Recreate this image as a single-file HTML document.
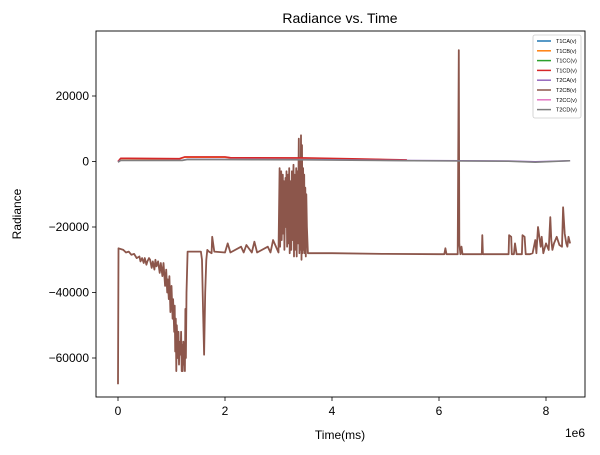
<!DOCTYPE html>
<html><head><meta charset="utf-8">
<style>
body{margin:0;background:#fff;}
svg{display:block;font-family:"Liberation Sans","DejaVu Sans",sans-serif;}
</style></head>
<body>
<svg id="chart" width="600" height="455" viewBox="0 0 600 455" xmlns="http://www.w3.org/2000/svg">
<rect x="0" y="0" width="600" height="455" fill="#fff"/>
<text x="340" y="23" font-size="14" text-anchor="middle">Radiance vs. Time</text>
<g id="series"></g>
<rect x="96" y="31" width="489" height="366" fill="none" stroke="#000" stroke-width="0.9"/>
<g id="axes"></g>
<text x="340" y="439" font-size="12" text-anchor="middle">Time(ms)</text>
<text x="585" y="437" font-size="12" text-anchor="end">1e6</text>
<text x="21" y="214" font-size="12" text-anchor="middle" transform="rotate(-90 21 214)">Radiance</text>
<g id="legend"></g>
</svg>
<script>
const seriesNames=["T1CA(v)","T1CB(v)","T1CC(v)","T1CD(v)","T2CA(v)","T2CB(v)","T2CC(v)","T2CD(v)"];
const seriesColors=["#1f77b4","#ff7f0e","#2ca02c","#d62728","#9467bd","#8c564b","#e377c2","#7f7f7f"];
const xTicks=[0,2,4,6,8];
const yTicks=[20000,0,-20000,-40000,-60000];
const yTickLabels=["20000","0","\u221220000","\u221240000","\u221260000"];
const t1Time=[0,0.05,1.15,1.25,2.0,2.1,3.5,4.5,5.4];
const t1cdValues=[0,1000,900,1400,1400,1200,1100,800,500];
const t1cbValues=[0,900,800,1300,1300,1100,1000,700,400];
const t2Time=[0,0.05,1.2,1.3,3.5,5.5,7.3,7.8,8.45];
const t2cdValues=[-200,300,300,600,500,200,100,-200,200];
const t2caValues=[-100,400,400,700,600,300,150,-100,250];
const t2cbTime=[0,0.01,0.1,0.15,0.2,0.25,0.3,0.35,0.4,0.42,0.45,0.48,0.5,0.53,0.55,0.58,0.6,0.63,0.65,0.68,0.7,0.72,0.75,0.78,0.8,0.83,0.85,0.88,0.9,0.92,0.93,0.95,0.96,0.98,1.0,1.02,1.03,1.05,1.06,1.07,1.08,1.09,1.1,1.12,1.13,1.14,1.15,1.17,1.18,1.19,1.2,1.21,1.22,1.23,1.24,1.25,1.26,1.27,1.28,1.3,1.55,1.57,1.59,1.61,1.63,1.65,1.67,1.7,1.75,1.76,1.8,2.0,2.05,2.1,2.3,2.35,2.4,2.5,2.55,2.6,2.8,2.85,2.9,3.0,3.02,3.03,3.05,3.06,3.08,3.09,3.1,3.11,3.13,3.14,3.15,3.16,3.18,3.19,3.2,3.21,3.23,3.24,3.25,3.26,3.28,3.29,3.3,3.31,3.33,3.34,3.35,3.36,3.38,3.39,3.4,3.41,3.42,3.43,3.44,3.45,3.46,3.47,3.48,3.49,3.5,3.51,3.52,3.53,3.55,3.6,4.0,5.0,6.0,6.1,6.12,6.14,6.35,6.37,6.38,6.4,6.42,6.44,6.8,6.81,6.82,7.3,7.31,7.35,7.36,7.4,7.42,7.45,7.55,7.56,7.6,7.62,7.7,7.75,7.8,7.82,7.85,7.9,7.92,7.95,8.0,8.05,8.08,8.1,8.12,8.15,8.2,8.25,8.3,8.32,8.35,8.38,8.4,8.42,8.45];
const t2cbValues=[-68000,-26500,-27000,-27800,-27500,-28500,-28200,-29500,-29000,-30500,-29500,-31000,-29500,-31500,-30500,-29500,-30000,-32500,-30500,-33000,-30000,-32000,-30500,-34000,-31000,-35000,-31000,-38000,-33000,-40000,-36000,-42000,-35000,-46000,-38000,-48000,-42000,-52000,-44000,-58000,-48000,-64000,-50000,-60000,-52000,-62000,-55000,-59000,-52000,-64000,-56000,-64000,-55000,-62000,-57000,-64000,-45000,-60000,-40000,-27500,-27500,-30000,-46000,-59000,-40000,-30000,-27000,-27500,-28000,-23000,-27500,-27800,-25000,-27800,-26000,-27800,-25500,-27800,-24500,-27800,-26000,-27800,-24000,-27800,-2000,-26000,-3000,-24000,-4000,-22000,-6000,-27000,-5000,-20000,-3000,-26000,-4000,-25000,-2000,-28000,-6000,-27000,-3000,-24000,-1000,-29000,-4000,-27000,-2000,-29000,-3000,-25000,7000,-28000,1000,-27000,8000,-30000,5000,-28000,-2000,-27000,-4000,-28000,-8000,-29000,-10000,-20000,-28000,-28000,-28000,-28200,-28300,-28300,-26500,-28300,-28300,34000,-25000,-28300,-26000,-28300,-28300,-22500,-28300,-28300,-22500,-23000,-28300,-28300,-25000,-28300,-28300,-22500,-23000,-28300,-28300,-28000,-24000,-28000,-20000,-26000,-23000,-28000,-25000,-27000,-17000,-24000,-27000,-25000,-23000,-25500,-26000,-14000,-22000,-25000,-26000,-23000,-25000,-27000,-24000];

const X0=118,XS=53.5,Y0=161.5,YS=65.5/20000;
function xScale(v){return X0+v*XS;}
function yScale(v){return Y0-v*YS;}
const NS="http://www.w3.org/2000/svg";
function mk(tag,attrs,parent){const e=document.createElementNS(NS,tag);for(const k in attrs)e.setAttribute(k,attrs[k]);parent.appendChild(e);return e;}
const sg=document.getElementById("series");
function drawLine(xs,ys,color,name,w){
  const d=xs.map((x,i)=>(i?"L":"M")+xScale(x).toFixed(1)+","+yScale(ys[i]).toFixed(1)).join("");
  const p=mk("path",{d:d,fill:"none",stroke:color,"stroke-width":w,"stroke-linejoin":"round"},sg);
  
  
}
drawLine(t2cbTime,t2cbValues,seriesColors[5],"series-t2cb",1.8);
drawLine(t1Time,t1cbValues,seriesColors[1],"series-t1cb",1.5);
drawLine(t1Time,t1cdValues,seriesColors[3],"series-t1cd",1.5);
drawLine(t2Time,t2caValues,seriesColors[4],"series-t2ca",1.5);
drawLine(t2Time,t2cdValues,seriesColors[7],"series-t2cd",1.5);

const ag=document.getElementById("axes");
xTicks.forEach(t=>{
  const x=xScale(t);
  const l=mk("line",{x1:x,x2:x,y1:397,y2:401,stroke:"#000","stroke-width":0.8},ag);
  
  
  const tx=mk("text",{x:x,y:415,"font-size":12,"text-anchor":"middle"},ag);
  tx.textContent=t;
  
  
});
yTicks.forEach((t,i)=>{
  const y=yScale(t);
  const l=mk("line",{x1:92,x2:96,y1:y,y2:y,stroke:"#000","stroke-width":0.8},ag);
  
  
  const tx=mk("text",{x:89,y:y+4,"font-size":12,"text-anchor":"end"},ag);
  tx.textContent=yTickLabels[i];
  
  
});

const lg=document.getElementById("legend");
mk("rect",{x:533,y:35,width:48,height:83,fill:"#fff",stroke:"#ccc","stroke-width":0.8,rx:2},lg);
seriesNames.forEach((n,i)=>{
  const y=41+i*9.8;
  const l=mk("line",{x1:537,x2:551,y1:y,y2:y,stroke:seriesColors[i],"stroke-width":1.5},lg);
  
  
  const tx=mk("text",{x:556,y:y+2,"font-size":5.5},lg);
  tx.textContent=n;
  
  
});
</script>
</body></html>
